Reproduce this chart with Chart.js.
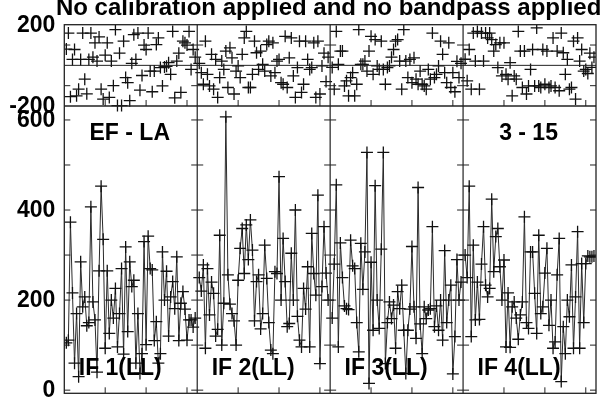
<!DOCTYPE html>
<html><head><meta charset="utf-8">
<script src="https://cdn.jsdelivr.net/npm/chart.js@4/dist/chart.umd.min.js"></script>
<style>html,body{margin:0;padding:0;background:#fff}#wrap{width:607px;height:397px}</style>
</head><body><div id="wrap"><canvas id="c" width="607" height="397"></canvas></div>
<script>
const titleText = 'No calibration applied and no bandpass applied';
const baselineLabel = 'EF - LA';
const timeLabel = '3 - 15';
const ifLabels = ['IF 1(LL)', 'IF 2(LL)', 'IF 3(LL)', 'IF 4(LL)'];
const nChan = 64;
const channels = Array.from({length: nChan}, (_, k) => k + 1);
const panelWidth = 65;
const ampTicks = [0, 200, 400, 600];
const ampMinorTicks = [0, 100, 200, 300, 400, 500, 600];
const phaseTicks = [-200, 200];
const phaseMinorTicks = [-100, 100];
const chanTicks = [20, 40, 60];
const ampRange = [-7, 631];
const phaseRange = [-200, 200];

const ampIF1 = [105,111,373,216,60,170,30,285,185,207, 143,150,407,196,156,40,265,453,335,93, 265,126,200,160,226,96,170,270,80,318, 130,285,230,244,60,170,37,81,330,101, 342,270,267,110,152,60,81,307,200,264, 120,207,241,181,296,110,193,219,180,111, 156,156,140,160];
const ampIF2 = [250,220,278,93,270,167,240,215,120,135, 344,100,193,607,256,191,170,154,100,244, 315,359,259,367,290,378,311,154,241,256, 136,170,322,248,150,89,81,263,259,474, 200,337,241,141,148,304,200,400,164,111, 96,226,180,274,96,348,259,211,433,59, 230,363,260,200];
const ampIF3 = [160,280,456,96,327,250,187,181,179,333, 276,270,150,85,326,224,307,528,15,284, 133,454,200,137,313,528,59,150,196,159, 189,93,219,181,233,133,37,133,180,319, 185,115,450,147,81,185,159,178,181,363, 141,187,133,200,111,310,150,200,233,36, 119,290,200,240];
const ampIF4 = [300,250,453,119,322,156,240,157,280,363, 233,207,226,424,263,341,359,274,200,289, 96,216,95,185,196,160,113,167,196,385, 150,137,307,307,215,126,344,170,185,260, 315,144,200,93,107,256,337,19,141,81, 200,163,278,93,207,352,93,281,150,281, 298,296,296,298];

const phaseIF1 = [80,159,-154,29,78,-150,-117,29,159,-68, -140,29,159,40,111,21,140,-117,-166,50, 111,-158,21,-100,176,-198,60,-198,119,-60, -85,-174,10,151,29,159,-122,-50,100,78, 159,-28,-130,-28,102,135,-11,-101,-8,-5, 13,-44,167,-160,21,60,-133,119,111,100, 167,-20,78,40];
const phaseIF2 = [10,-36,-93,119,-44,-101,54,-117,29,-158, -60,21,-20,70,-109,86,37,-141,-28,-3, -60,54,135,167,-109,-109,-44,119,62,-20, 70,5,-28,102,119,-52,111,-36,21,29, -85,-93,143,-109,37,135,-52,-158,-11,119, -133,-93,119,29,-20,-11,111,-158,119,-141, -3,60,-80,40];
const phaseIF3 = [-10,-117,167,5,70,70,-101,-76,-150,-60, -36,-150,-93,176,5,5,21,-28,70,143, -44,127,-3,-20,119,-20,-93,-11,-3,40, 78,119,127,21,-117,176,21,-60,29,-85, 37,-68,-93,-28,-93,-101,-117,-20,-68,159, -60,-44,-3,119,54,-36,-85,111,-109,-36, -130,20,-60,10];
const phaseIF4 = [30,-76,78,-117,159,21,167,-117,159,21, 159,135,159,127,70,102,-11,111,-52,111, -44,-68,13,-150,-52,-68,167,70,-109,70, -141,-101,-20,78,-101,184,-101,-109,78,-93, 70,-109,-101,135,-109,70,-125,159,62,-44, 29,-117,-109,119,-166,135,21,78,-28,-20, -40,60,-10,40];

const ampSeries = [ampIF1, ampIF2, ampIF3, ampIF4];
const phaseSeries = [phaseIF1, phaseIF2, phaseIF3, phaseIF4];

// vertical share of the plot taken by the amplitude panel
const ampFrac = 287.3 / 368.6;
const ampMax = ampRange[0] + (ampRange[1] - ampRange[0]) / ampFrac;
const phMin = phaseRange[1] - (phaseRange[1] - phaseRange[0]) / (1 - ampFrac);

const FONT = '"Liberation Sans", Arial, Helvetica, sans-serif';
const ink = '#111';

const datasets = [];
ampSeries.forEach((vals, p) => {
  datasets.push({
    data: channels.map((c, k) => ({x: p * panelWidth + c, y: vals[k]})),
    yAxisID: 'amp', showLine: true, borderColor: '#2a2a2a', borderWidth: 1,
    pointStyle: 'cross', pointRadius: 6, pointBorderColor: ink, pointBorderWidth: 1.3,
    pointBackgroundColor: ink, tension: 0
  });
});
phaseSeries.forEach((vals, p) => {
  datasets.push({
    data: channels.map((c, k) => ({x: p * panelWidth + c, y: vals[k]})),
    yAxisID: 'ph', showLine: false,
    pointStyle: 'cross', pointRadius: 6, pointBorderColor: ink, pointBorderWidth: 1.3,
    pointBackgroundColor: ink
  });
});

function seg(ctx, x1, y1, x2, y2) { ctx.beginPath(); ctx.moveTo(x1, y1); ctx.lineTo(x2, y2); ctx.stroke(); }

const framePlugin = {
  id: 'frame',
  afterDatasetsDraw(chart) {
    const {ctx, chartArea: a, scales} = chart;
    const xs = scales.x, amp = scales.amp, ph = scales.ph;
    const yB = amp.getPixelForValue(ampRange[1]);
    const yMid = ph.getPixelForValue(0);
    const edges = [0, 1, 2, 3, 4].map(p => xs.getPixelForValue(p * panelWidth));
    const tl = 6;
    ctx.save();
    ctx.strokeStyle = '#222';
    ctx.lineWidth = 1.3;
    ctx.strokeRect(a.left, a.top, a.right - a.left, a.bottom - a.top);
    seg(ctx, a.left, yB, a.right, yB);
    ctx.lineWidth = 1;
    seg(ctx, a.left, yMid, a.right, yMid);
    ctx.lineWidth = 1.2;
    for (let p = 1; p < 4; p++) seg(ctx, edges[p], a.top, edges[p], a.bottom);
    ctx.lineWidth = 1;
    const yTicks = ampMinorTicks.map(v => amp.getPixelForValue(v)).concat(phaseMinorTicks.map(v => ph.getPixelForValue(v)));
    yTicks.forEach(y => {
      edges.forEach((xp, p) => {
        if (p > 0) seg(ctx, xp - tl, y, xp, y);
        if (p < 4) seg(ctx, xp, y, xp + tl, y);
      });
    });
    for (let p = 0; p < 4; p++) {
      chanTicks.forEach(c => {
        const xp = xs.getPixelForValue(p * panelWidth + c);
        seg(ctx, xp, a.bottom, xp, a.bottom - tl);
        seg(ctx, xp, yB, xp, yB - tl);
      });
    }
    // axis tick labels
    ctx.fillStyle = '#000';
    ctx.font = 'bold 23px ' + FONT;
    ctx.textAlign = 'right';
    ctx.textBaseline = 'middle';
    const lx = a.left - 9;
    phaseTicks.forEach(v => ctx.fillText(String(v), lx, ph.getPixelForValue(v) + 1));
    ampTicks.forEach(v => ctx.fillText(String(v), lx, amp.getPixelForValue(v) + 1));
    // panel texts
    ctx.textBaseline = 'alphabetic';
    ctx.textAlign = 'center';
    const c1 = (edges[0] + edges[1]) / 2, c4 = (edges[3] + edges[4]) / 2;
    const yTop = amp.getPixelForValue(556);
    ctx.fillText(baselineLabel, c1 - 1, yTop);
    ctx.fillText(timeLabel, c4 - 1, yTop);
    const yIF = amp.getPixelForValue(33);
    ifLabels.forEach((t, p) => {
      ctx.fillText(t, (edges[p] + edges[p + 1]) / 2 - 10.5, yIF);
    });
    ctx.font = 'bold 24px ' + FONT;
    ctx.fillText(titleText, (a.left + a.right) / 2 - 1.5, 15);
    ctx.restore();
  }
};

new Chart(document.getElementById('c'), {
  type: 'scatter',
  data: {datasets},
  options: {
    responsive: false, animation: false,
    layout: {autoPadding: false, padding: {top: 24.7, bottom: 3.7, right: 11, left: 64.3}},
    plugins: {legend: {display: false}, tooltip: {enabled: false}, title: {display: false}},
    scales: {
      x: {type: 'linear', min: 0, max: 4 * panelWidth, display: false},
      amp: {type: 'linear', position: 'left', min: ampRange[0], max: ampMax, display: false},
      ph: {type: 'linear', position: 'left', min: phMin, max: phaseRange[1], display: false}
    }
  },
  plugins: [framePlugin]
});
</script>
</body></html>
